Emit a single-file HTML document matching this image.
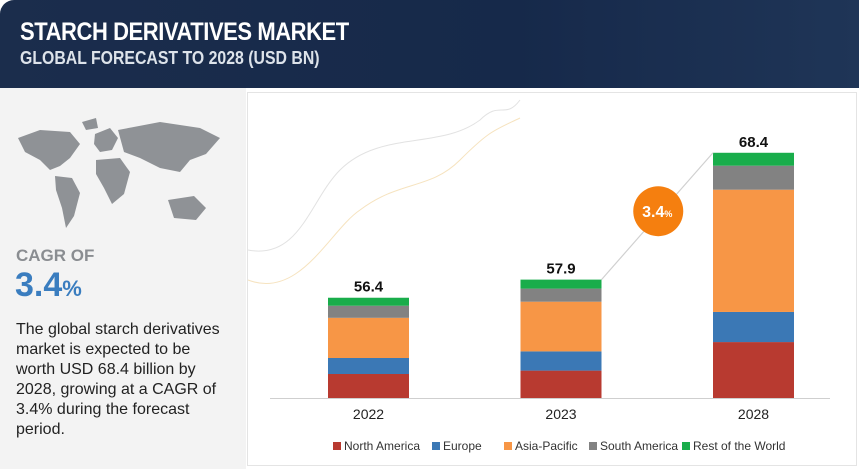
<!DOCTYPE html>
<html><head><meta charset="utf-8"><style>
body{margin:0;width:859px;height:469px;overflow:hidden;font-family:"Liberation Sans",sans-serif;background:#fff;position:relative}
.hdr{position:absolute;left:0;top:0;width:859px;height:88px;background:linear-gradient(90deg,#1b2d4c,#16294a 60%,#1f3557);border-top-left-radius:14px}
.t1{position:absolute;left:20px;top:18px;color:#fff;font-size:25px;font-weight:bold;letter-spacing:-0.5px;transform:scaleX(.88);transform-origin:left}
.t2{position:absolute;left:20px;top:48px;color:#dde3ea;font-size:18px;font-weight:bold;transform:scaleX(.88);transform-origin:left}
.left{position:absolute;left:0;top:88px;width:246px;height:381px;background:#f3f3f3}
.panel{position:absolute;left:247px;top:92px;width:608px;height:372px;border:1px solid #e4e4e4;background:#fff}
</style></head><body>
<div class="hdr">
<div class="t1">STARCH DERIVATIVES MARKET</div>
<div class="t2">GLOBAL FORECAST TO 2028 (USD BN)</div>
</div>
<div class="left">
<svg width="246" height="140" style="position:absolute;left:0;top:20px">
<g fill="#8f9296">
<path d="M18 30 L40 22 L70 24 L80 36 L70 50 L60 58 L50 62 L40 52 L25 44 Z"/>
<path d="M55 68 L72 70 L80 85 L74 108 L66 120 L62 100 L56 82 Z"/>
<path d="M95 26 L110 20 L118 30 L112 42 L100 44 L94 36 Z"/>
<path d="M96 52 L120 50 L130 64 L124 86 L112 96 L104 80 L96 66 Z"/>
<path d="M118 22 L160 14 L200 20 L220 30 L206 46 L190 52 L180 64 L160 60 L140 50 L124 44 Z"/>
<path d="M168 92 L194 88 L206 100 L196 112 L174 110 Z"/>
<path d="M82 14 L96 10 L98 20 L86 22 Z"/>
</g></svg>
<div style="position:absolute;left:16px;top:158px;font-size:17px;color:#8a8d91;font-weight:bold">CAGR OF</div>
<div style="position:absolute;left:15px;top:178px;font-size:34px;font-weight:bold;color:#3a7dbf">3.4<span style="font-size:22px">%</span></div>
<div style="position:absolute;left:16px;top:232px;width:210px;font-size:16px;line-height:20px;color:#222">The global starch derivatives market is expected to be worth USD 68.4 billion by 2028, growing at a CAGR of 3.4% during the forecast period.</div>
</div>
<div class="panel"></div>
<svg id="chart" width="859" height="469" style="position:absolute;left:0;top:0">
<path d="M248 250 C300 260 310 200 340 170 C380 130 440 150 480 120 C500 100 505 120 520 100" fill="none" stroke="#e2e2e2"/>
<path d="M248 280 C300 300 330 230 360 210 C400 180 430 190 460 160 C490 130 495 130 520 118" fill="none" stroke="#f6e3bf"/>
</svg>
<script>
const categories=["2022","2023","2028"];
const totals=[56.4,57.9,68.4];
const seriesNames=["North America","Europe","Asia-Pacific","South America","Rest of the World"];
const northAmerica=[13.5,13.4,15.6];
const europe=[9.0,9.4,8.4];
const asiaPacific=[22.6,24.3,34.1];
const southAmerica=[6.8,6.4,6.7];
const restOfWorld=[4.5,4.4,3.6];
const cagrLabel="3.4";
const colors=["#b83a30","#3b78b5","#f79646","#828282","#19ad4b"];
const svg=document.getElementById('chart');const NS="http://www.w3.org/2000/svg";
const base=398,k=12.08,v0=48.1;
function yTop(v){return base-(v-v0)*k;}
function xPos(i){return 328+i*192.5;}
const bw=81;
function mk(t,a){const e=document.createElementNS(NS,t);for(const n in a)e.setAttribute(n,a[n]);svg.appendChild(e);return e;}
const series=[northAmerica,europe,asiaPacific,southAmerica,restOfWorld];
const axis=mk('line',{x1:270,x2:830,y1:base+0.5,y2:base+0.5,stroke:'#cfcfcf'});


categories.forEach((c,i)=>{
  const H=base-yTop(totals[i]);let y=base;
  const sum=series.reduce((s,a)=>s+a[i],0);
  series.forEach((s,j)=>{
    const h=H*s[i]/sum;
    const r=mk('rect',{x:xPos(i),y:y-h,width:bw,height:h,fill:colors[j]});
    
    
    y-=h;
  });
  const t=mk('text',{x:xPos(i)+bw/2,y:yTop(totals[i])-6,'text-anchor':'middle','font-size':15,'font-weight':'bold',fill:'#111'});
  t.textContent=totals[i];
  
  
  const l=mk('text',{x:xPos(i)+bw/2,y:419,'text-anchor':'middle','font-size':14,fill:'#222'});
  l.textContent=c;
  
  
});
const ar=mk('line',{x1:xPos(1)+bw,y1:yTop(totals[1]),x2:xPos(2),y2:yTop(totals[2]),stroke:'#d0d0d0','stroke-width':1.2});


const cx=(xPos(1)+bw+xPos(2))/2+1,cy=(yTop(totals[1])+yTop(totals[2]))/2-5;
const ci=mk('circle',{cx:cx,cy:cy,r:25,fill:'#f57f0f'});


const ct=mk('text',{x:cx-1,y:cy+6,'text-anchor':'middle','font-size':16,'font-weight':'bold',fill:'#fff'});
ct.innerHTML=cagrLabel+'<tspan font-size="9">%</tspan>';


const lx=[333,432,504,589,682];
seriesNames.forEach((n,j)=>{
  const g=mk('g',{});
  
  
  const r=document.createElementNS(NS,'rect');r.setAttribute('x',lx[j]);r.setAttribute('y',442);r.setAttribute('width',8);r.setAttribute('height',8);r.setAttribute('fill',colors[j]);g.appendChild(r);
  const t=document.createElementNS(NS,'text');t.setAttribute('x',lx[j]+11);t.setAttribute('y',450);t.setAttribute('font-size',12);t.setAttribute('fill','#333');t.textContent=n;g.appendChild(t);
});
</script>
</body></html>
